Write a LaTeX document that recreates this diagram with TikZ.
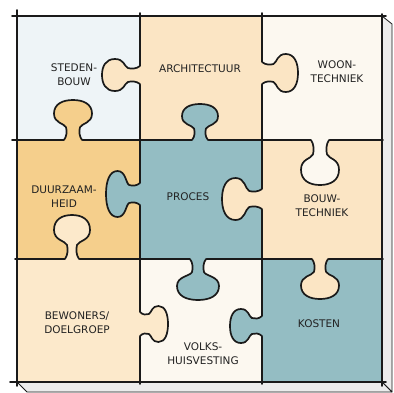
\documentclass[tikz,border=0pt]{standalone}
\usepackage{fontspec}
\newfontfamily\handfont{DejaVu Sans}
\usepackage{tikz}
\definecolor{inkline}{HTML}{1A1A1A}
\definecolor{inktext}{HTML}{222222}
\definecolor{paleblue}{HTML}{EEF4F7}
\definecolor{sand}{HTML}{FBE5C4}
\definecolor{lightsand}{HTML}{FCE9CB}
\definecolor{cream}{HTML}{FCF8F0}
\definecolor{ochre}{HTML}{F5CF8C}
\definecolor{petrol}{HTML}{94BDC3}
\definecolor{sidegrey}{HTML}{ECECEC}
\tikzset{
  lbl/.style    = {font=\handfont\fontsize{10.5}{14}\selectfont,align=center,
                   text=inktext,inner sep=0pt},
  edge/.style   = {draw=inkline,line width=1.7pt,line cap=round,line join=round},
  side/.style   = {fill=sidegrey,draw=inkline,line width=0.8pt,line join=round},
  kup/.style    = {x={(1pt,0pt)},y={(0pt,1pt)}},
  kdown/.style  = {x={(1pt,0pt)},y={(0pt,-1pt)}},
  kleft/.style  = {x={(0pt,1pt)},y={(-1pt,0pt)}},
  kright/.style = {x={(0pt,1pt)},y={(1pt,0pt)}},
}
% knob outline, local frame: edge on the x axis, knob towards +y
\newcommand{\knobpath}[3]{%
  .. controls ({-#1+1},{0.1*#3}) and ({-#1+1},{0.22*#3}) .. ({-#1},{0.32*#3})
  .. controls ({-#1-2},{0.42*#3}) and ({-#2},{0.42*#3}) .. ({-#2},{0.66*#3})
  .. controls ({-#2},{0.9*#3}) and ({-0.55*#2},{#3}) .. (0,{#3})
  .. controls ({0.55*#2},{#3}) and ({#2},{0.9*#3}) .. ({#2},{0.66*#3})
  .. controls ({#2},{0.42*#3}) and ({#1+2},{0.42*#3}) .. ({#1},{0.32*#3})
  .. controls ({#1-1},{0.22*#3}) and ({#1-1},{0.1*#3}) .. ({#1+2},0)}
% #1,#2 centre on the edge, #3 direction, #4 neck, #5 head, #6 depth, #7 colour
\newcommand{\knob}[7]{%
  \begin{scope}[shift={(#1,#2)},#3]
    \fill[#7] ({-#4-2},-1.4) -- ({-#4-2},0) \knobpath{#4}{#5}{#6} -- ({#4+2},-1.4) -- cycle;
    \draw[edge] ({-#4-2},0) \knobpath{#4}{#5}{#6};
  \end{scope}}

\begin{document}
\begin{tikzpicture}[x=1pt,y=-1pt]
  \useasboundingbox (0,0) rectangle (394,392);

  % box sides
  \draw[side] (382,16) -- (392,24) -- (392,392) -- (382,382) -- cycle;
  \draw[side] (17,382) -- (27,392) -- (392,392) -- (382,382) -- cycle;

  % tiles
  \fill[paleblue]  (17,16)   rectangle (140,140);
  \fill[sand]      (140,16)  rectangle (262,140);
  \fill[cream]     (262,16)  rectangle (382,140);
  \fill[ochre]     (17,140)  rectangle (140,259);
  \fill[petrol]    (140,140) rectangle (262,259);
  \fill[sand]      (262,140) rectangle (382,259);
  \fill[lightsand] (17,259)  rectangle (140,382);
  \fill[cream]     (140,259) rectangle (262,382);
  \fill[petrol]    (262,259) rectangle (382,382);

  % grid
  \draw[edge] (12,16) -- (386,16);
  \draw[edge] (12,140) -- (383,140);
  \draw[edge] (15,259) -- (383,259);
  \draw[edge] (10,382) -- (386,382);
  \draw[edge] (17,10) -- (17,386);
  \draw[edge] (140,13) -- (140,384);
  \draw[edge] (262,13) -- (262,384);
  \draw[edge] (382,14) -- (382,386);

  % knobs
  \knob{140}{75}{kleft}{7}{16}{38}{sand}
  \knob{73}{140}{kup}{7}{19}{40}{ochre}
  \knob{200}{140}{kup}{6}{18}{36}{petrol}
  \knob{262}{73}{kright}{9}{19}{36}{sand}
  \knob{140}{194}{kleft}{9}{23}{34}{petrol}
  \knob{262}{199}{kleft}{8}{21}{40}{sand}
  \knob{320}{140}{kdown}{7}{19}{45}{cream}
  \knob{72}{259}{kup}{5}{18}{44}{lightsand}
  \knob{198}{259}{kdown}{6}{21}{41}{petrol}
  \knob{140}{324}{kright}{10}{18}{28}{lightsand}
  \knob{262}{326}{kleft}{8}{17}{32}{petrol}
  \knob{320}{259}{kdown}{6}{19}{40}{sand}

  % labels
  \node[lbl] (stedenbouw) at (74,75)  {STEDEN-\\BOUW};
  \node[lbl] (architectuur) at (200,69) {ARCHITECTUUR};
  \node[lbl] (woontechniek) at (337,72) {WOON-\\TECHNIEK};
  \node[lbl] (duurzaamheid) at (64,197) {DUURZAAM-\\HEID};
  \node[lbl] (proces) at (188,197) {PROCES};
  \node[lbl] (bouwtechniek) at (322,206) {BOUW-\\TECHNIEK};
  \node[lbl] (bewoners) at (77,323) {BEWONERS/\\DOELGROEP};
  \node[lbl] (volkshuisvesting) at (203,354) {VOLKS-\\HUISVESTING};
  \node[lbl] (kosten) at (319,324) {KOSTEN};
\end{tikzpicture}
\end{document}
